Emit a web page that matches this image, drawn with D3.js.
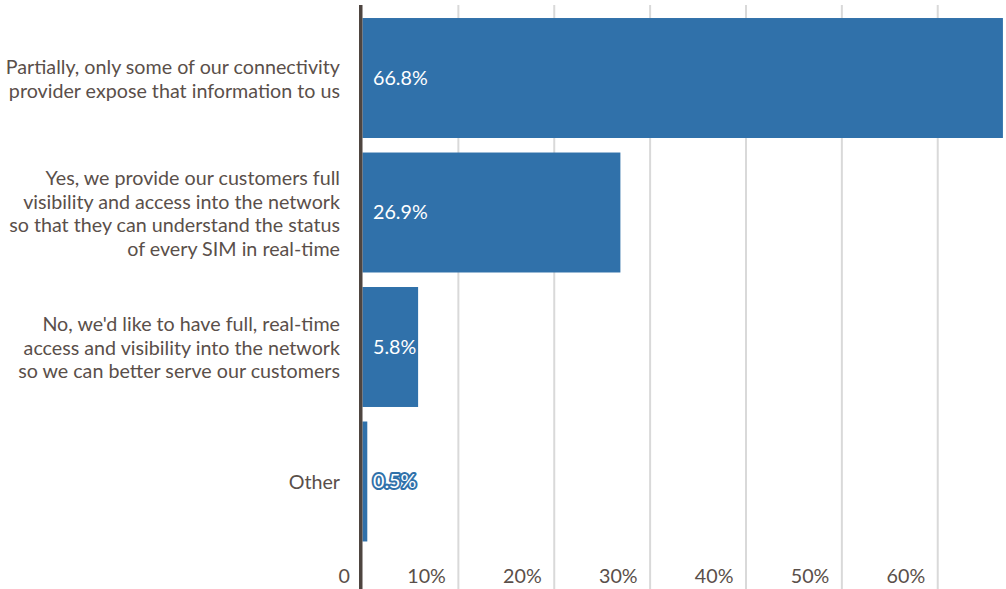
<!DOCTYPE html>
<html>
<head>
<meta charset="utf-8">
<script src="https://cdn.jsdelivr.net/npm/d3@7"></script>
<style>
  html, body { margin: 0; padding: 0; background: #fff; }
  svg { display: block; font-family: Lato, "Open Sans", sans-serif; }
</style>
</head>
<body>
<svg id="chart" width="1006" height="589"></svg>
<script>
// Survey answers, each wrapped into the lines shown beside its bar
const categories = [
  ["Partially, only some of our connectivity", "provider expose that information to us"],
  ["Yes, we provide our customers full", "visibility and access into the network", "so that they can understand the status", "of every SIM in real-time"],
  ["No, we'd like to have full, real-time", "access and visibility into the network", "so we can better serve our customers"],
  ["Other"]
];
const values = [66.8, 26.9, 5.8, 0.5];
const tickValues = [0, 10, 20, 30, 40, 50, 60];
const tickLabels = ["0", "10%", "20%", "30%", "40%", "50%", "60%"];

const W = 1006, H = 589;
const barColor = "#3071aa";
const textColor = "#5a4f4a";
const axisColor = "#4e4540";
const gridColor = "#d9d9d9";
const fontSize = 19.7;

const svg = d3.select("#chart");

const x = d3.scaleLinear().domain([0, 70]).range([362.5, 1033.6]);
const y = d3.scaleBand()
  .domain(d3.range(values.length))
  .range([3.5, 556])
  .paddingInner(0.108)
  .paddingOuter(0.108);

// vertical gridlines
svg.append("g")
  .selectAll("line")
  .data(tickValues.slice(1))
  .join("line")
  .attr("x1", d => x(d)).attr("x2", d => x(d))
  .attr("y1", 5).attr("y2", H)
  .attr("stroke", gridColor)
  .attr("stroke-width", 2);

// bars
svg.append("g")
  .selectAll("rect")
  .data(values)
  .join("rect")
  .attr("x", x(0))
  .attr("y", (d, i) => y(i))
  .attr("width", d => x(d) - x(0))
  .attr("height", y.bandwidth())
  .attr("fill", barColor);

// zero axis line
svg.append("rect")
  .attr("x", x(0) - 3.5).attr("y", 5)
  .attr("width", 3.5).attr("height", H - 5)
  .attr("fill", axisColor);

// category labels
const lineH = 23.6;
const catG = svg.append("g")
  .attr("font-size", fontSize)
  .attr("fill", textColor)
  .attr("text-anchor", "end");
categories.forEach((lines, i) => {
  const cy = y(i) + y.bandwidth() / 2 + 1;
  const t = catG.append("text")
    .attr("x", 340)
    .attr("y", cy - (lines.length - 1) * lineH / 2);
  lines.forEach((ln, j) => {
    t.append("tspan")
      .attr("x", 340)
      .attr("dy", j === 0 ? "0.35em" : lineH)
      .text(ln);
  });
});

// value labels
svg.append("g")
  .attr("font-size", fontSize)
  .selectAll("text")
  .data(values)
  .join("text")
  .attr("x", x(0) + 10.5)
  .attr("y", (d, i) => y(i) + y.bandwidth() / 2)
  .attr("dy", "0.35em")
  .attr("fill", "#ffffff")
  .attr("stroke", d => (x(d) - x(0) < 60 ? barColor : "none"))
  .attr("stroke-width", 4)
  .attr("stroke-linejoin", "round")
  .attr("paint-order", "stroke")
  .text(d => d.toFixed(1) + "%");

// x tick labels
svg.append("g")
  .attr("font-size", fontSize)
  .attr("fill", textColor)
  .attr("text-anchor", "end")
  .selectAll("text")
  .data(tickValues)
  .join("text")
  .attr("x", d => x(d) - 12.5)
  .attr("y", 583)
  .text((d, i) => tickLabels[i]);
</script>
</body>
</html>
